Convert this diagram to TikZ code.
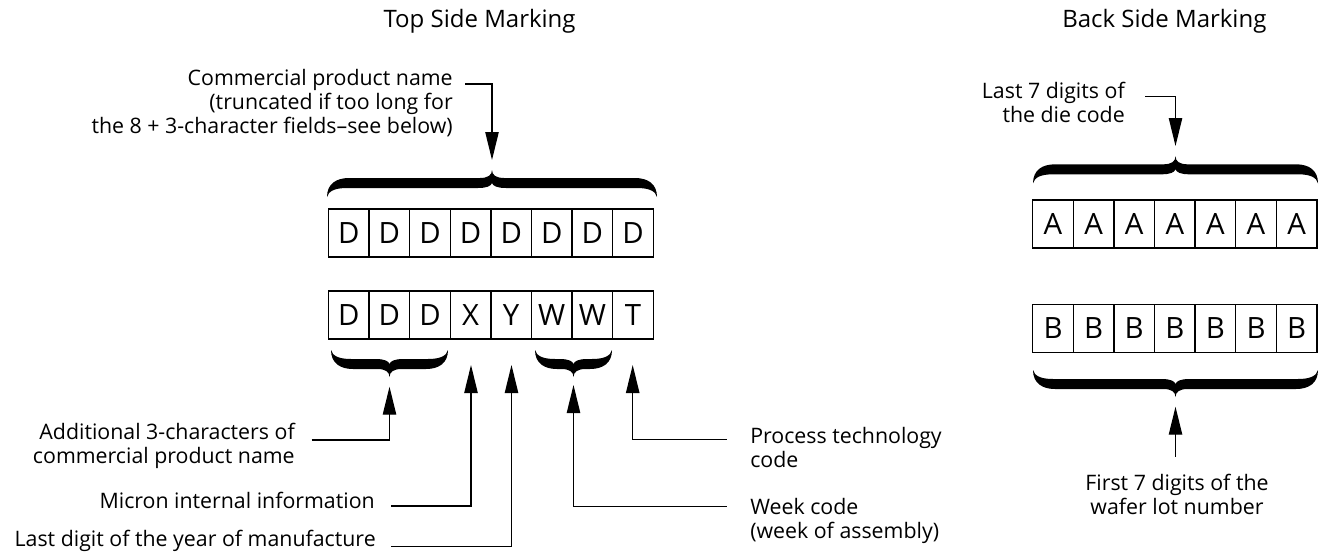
\documentclass[tikz,border=0pt]{standalone}
\usepackage{fontspec}
\setmainfont{Open Sans}
\usetikzlibrary{arrows.meta}
% filled curly brace: #1 left x, #2 right x, #3 y of the ends, #4 = 1 (tip up) or -1 (tip down)
\newcommand\mybrace[4]{%
  \pgfmathsetmacro\bxm{(#1+#2)/2}%
  \fill ({#1},{#3})
     .. controls ({#1},{#3-13*#4}) and ({#1+9},{#3-19*#4}) .. ({#1+22},{#3-19*#4})
     -- ({\bxm-12},{#3-19*#4})
     .. controls ({\bxm-4},{#3-19*#4}) and ({\bxm},{#3-22*#4}) .. ({\bxm},{#3-27*#4})
     .. controls ({\bxm},{#3-22*#4}) and ({\bxm+4},{#3-19*#4}) .. ({\bxm+12},{#3-19*#4})
     -- ({#2-22},{#3-19*#4})
     .. controls ({#2-9},{#3-19*#4}) and ({#2},{#3-13*#4}) .. ({#2},{#3})
     .. controls ({#2-1.5},{#3-6*#4}) and ({#2-8},{#3-9*#4}) .. ({#2-20},{#3-9*#4})
     -- ({\bxm+14},{#3-9*#4})
     .. controls ({\bxm+5},{#3-9*#4}) and ({\bxm+1},{#3-11*#4}) .. ({\bxm},{#3-14*#4})
     .. controls ({\bxm-1},{#3-11*#4}) and ({\bxm-5},{#3-9*#4}) .. ({\bxm-14},{#3-9*#4})
     -- ({#1+20},{#3-9*#4})
     .. controls ({#1+8},{#3-9*#4}) and ({#1+1.5},{#3-6*#4}) .. ({#1},{#3})
     -- cycle;}
\begin{document}
\begin{tikzpicture}[x=0.75pt,y=-0.75pt,
  cell/.style={draw,line width=1pt,minimum width=30.45pt,minimum height=36pt,inner sep=0pt,font=\fontsize{22}{26}\selectfont},
  lbl/.style={inner sep=0pt,font=\fontsize{16}{18}\selectfont},
  ttl/.style={inner sep=0pt,font=\fontsize{18}{22}\selectfont},
  arr/.style={line width=1pt,-{Triangle[length=21pt,width=10pt]}}]
\useasboundingbox (0,0) rectangle (1320,557);
% titles
\node[ttl,anchor=west] (ttop) at (383.3,21) {Top Side Marking};
\node[ttl,anchor=east] (tback) at (1266.7,21) {Back Side Marking};
% top side cells
\foreach \c [count=\i from 0] in {D,D,D,D,D,D,D,D}
  \node[cell] (r\i) at ({348.8+40.6*\i},233) {\c};
\foreach \c [count=\i from 0] in {D,D,D,X,Y,W,W,T}
  \node[cell] (s\i) at ({348.8+40.6*\i},315) {\c};
% back side cells
\foreach \c [count=\i from 0] in {A,A,A,A,A,A,A}
  \node[cell] (a\i) at ({1053+40.6*\i},224) {\c};
\foreach \c [count=\i from 0] in {B,B,B,B,B,B,B}
  \node[cell] (b\i) at ({1053+40.6*\i},328.5) {\c};
% braces
\mybrace{327}{657}{197}{1}
\mybrace{331}{448}{350}{-1}
\mybrace{535}{612}{350}{-1}
\mybrace{1033}{1318}{183.3}{1}
\mybrace{1033}{1318}{370}{-1}
% labels
\node[lbl,align=right,anchor=east] (lcomm) at (453,103) {Commercial product name\\(truncated if too long for\\the 8 + 3-character fields--see below)};
\node[lbl,align=right,anchor=east] (ladd) at (295,446) {Additional 3-characters of\\commercial product name};
\node[lbl,anchor=east] (lmic) at (375,500) {Micron internal information};
\node[lbl,anchor=east] (lyear) at (376,541) {Last digit of the year of manufacture};
\node[lbl,align=left,anchor=west] (lproc) at (750,447.5) {Process technology\\code};
\node[lbl,align=left,anchor=west] (lweek) at (750,521) {Week code\\(week of assembly)};
\node[lbl,align=right,anchor=east] (ldie) at (1125,102.5) {Last 7 digits of\\the die code};
\node[lbl,align=center] (lwafer) at (1177,494) {First 7 digits of the\\wafer lot number};
% connector end points
\coordinate (p1) at (465,84);   \coordinate (q1) at (492,160);
\coordinate (p2) at (311.7,440); \coordinate (q2) at (389.5,386.7);
\coordinate (p3) at (391,506);  \coordinate (q3) at (471,365);
\coordinate (p4) at (391,546.7); \coordinate (q4) at (511.5,365);
\coordinate (p5) at (726.7,506.7); \coordinate (q5) at (573.5,385);
\coordinate (p6) at (726.7,439.3); \coordinate (q6) at (632.7,365);
\coordinate (p7) at (1145,96.7); \coordinate (q7) at (1175.5,146);
\coordinate (p8) at (1175.5,456.7); \coordinate (q8) at (1175.5,406.7);
\draw[arr] (p1) -| (q1);
\draw[arr] (p2) -| (q2);
\draw[arr] (p3) -| (q3);
\draw[arr] (p4) -| (q4);
\draw[arr] (p5) -| (q5);
\draw[arr] (p6) -| (q6);
\draw[arr] (p7) -| (q7);
\draw[arr] (p8) -- (q8);
\end{tikzpicture}
\end{document}
